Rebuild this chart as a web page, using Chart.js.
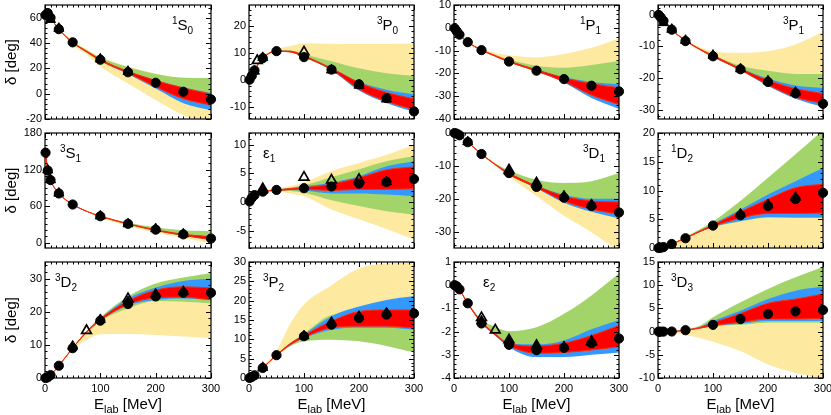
<!DOCTYPE html>
<html>
<head>
<meta charset="utf-8">
<script src="https://cdn.jsdelivr.net/npm/chart.js@4.4.1/dist/chart.umd.min.js"></script>
<style>
  html, body { margin: 0; padding: 0; background: #fff; width: 831px; height: 415px; overflow: hidden; position: relative; }
  canvas { position: absolute; left: -20px; top: -20px; }
</style>
</head>
<body>
<script>
// energies (MeV)
const E_BAND = [1, 5, 10, 25, 50, 75, 100, 150, 200, 250, 300];
const E_PWA = [1, 5, 10, 25, 50, 100, 150, 200, 250, 300];
const X_TICKS = [0, 100, 200, 300];

// bands: [yellow lo, yellow hi, green lo, green hi, blue lo, blue hi, red lo, red hi] on E_BAND

// 1S0
const P1S0_TICKS = [-20, 0, 20, 40, 60];
const P1S0_PWA = [62.1, 63.6, 60.0, 50.9, 40.5, 26.8, 16.9, 8.6, 1.5, -4.5];
const P1S0_TRI_E = [10, 25, 100, 150];
const P1S0_TRI = [58.5, 51.5, 27.3, 17.5];
const P1S0_BANDS = [
  [62, 63.5, 59.8, 50.6, 38.5, 31, 21.5, 8, -5, -17, -24],
  [62.2, 63.8, 60.2, 51.3, 41.5, 35, 29, 21.5, 16, 12.5, 12],
  [62, 63.5, 59.9, 50.8, 40, 32.5, 25.5, 16, 10.4, 4.5, -0.3],
  [62.2, 63.8, 60.1, 51.1, 41, 34.5, 28.5, 21, 15.5, 12.5, 12.3],
  [62, 63.5, 59.9, 50.8, 40, 32.8, 25.8, 15.5, 4, -7.5, -13],
  [62.2, 63.7, 60.1, 51.0, 40.5, 33.6, 27, 17.6, 10.6, 5, 0.5],
  [62.05, 63.55, 59.95, 50.85, 40.3, 33.0, 26.2, 16.3, 5.5, -4, -9],
  [62.15, 63.65, 60.05, 50.95, 40.6, 33.6, 27.0, 17.6, 10.4, 4.5, -0.3]
];

// 3P0
const P3P0_TICKS = [-10, 0, 10, 20];
const P3P0_PWA = [0.2, 1.6, 3.6, 8.1, 10.7, 8.5, 3.9, -1.5, -6.6, -11.5];
const P3P0_TRI_E = [10, 25, 150, 200, 250];
const P3P0_TRI = [3.3, 8.3, 3.7, -1.9, -7.0];
const P3P0_OTRI_E = [15, 100];
const P3P0_OTRI = [7.2, 10.4];
const P3P0_BANDS = [
  [0.2, 1.6, 3.6, 8.0, 10.6, 10.2, 8.5, 3.8, 0, 1, 1.6],
  [0.25, 1.7, 3.8, 8.6, 11.5, 12.5, 13.6, 13.4, 13.3, 13.3, 13.6],
  [0.2, 1.6, 3.6, 8.0, 10.6, 10.3, 8.5, 3.9, -1.0, -3.8, -5.3],
  [0.22, 1.65, 3.7, 8.2, 10.9, 10.9, 9.6, 7.0, 4.4, 2.6, 1.6],
  [0.2, 1.6, 3.6, 8.0, 10.6, 10.3, 8.5, 3.6, -3.8, -8.4, -11.7],
  [0.22, 1.65, 3.7, 8.2, 10.8, 10.8, 9.0, 4.5, -0.6, -3.5, -5.2],
  [0.2, 1.6, 3.6, 8.05, 10.65, 10.4, 8.6, 3.9, -3.3, -7.8, -10.9],
  [0.22, 1.64, 3.68, 8.15, 10.75, 10.7, 9.0, 4.4, -0.9, -4.5, -6.9]
];

// 1P1
const P1P1_TICKS = [-40, -30, -20, -10, 0, 10];
const P1P1_PWA = [-0.2, -1.5, -3.0, -6.3, -9.8, -14.8, -18.8, -22.5, -25.4, -27.9];
const P1P1_BANDS = [
  [-0.2, -1.5, -3.0, -6.3, -9.8, -12.5, -15.2, -18.8, -22, -24, -25],
  [-0.18, -1.45, -2.9, -6.0, -9.0, -11.0, -12.0, -13.0, -11.5, -8.8, -4.7],
  [-0.2, -1.5, -3.0, -6.3, -9.8, -12.5, -15.0, -18.8, -22, -24.5, -25],
  [-0.19, -1.47, -2.95, -6.2, -9.5, -11.8, -13.8, -16.6, -17.5, -16.3, -14.6],
  [-0.2, -1.5, -3.0, -6.35, -9.85, -12.5, -15.1, -19.2, -24, -30.8, -35.6],
  [-0.19, -1.48, -2.97, -6.25, -9.6, -12.1, -14.6, -18.3, -21.6, -23.8, -24.8],
  [-0.2, -1.5, -3.0, -6.32, -9.8, -12.5, -15.0, -19.0, -23.6, -29.5, -33.7],
  [-0.19, -1.48, -2.98, -6.28, -9.65, -12.2, -14.6, -18.4, -22.0, -24.5, -26.3]
];

// 3P1
const P3P1_TICKS = [-30, -20, -10, 0];
const P3P1_PWA = [-0.1, -0.9, -2.0, -4.8, -8.4, -13.2, -17.3, -21.3, -24.9, -28.2];
const P3P1_TRI_E = [10, 25, 50, 100, 150, 200, 250];
const P3P1_TRI = [-2.6, -4.7, -8.2, -12.9, -17.2, -21.0, -24.6];
const P3P1_BANDS = [
  [-0.1, -0.9, -2.1, -4.9, -8.3, -11, -13.4, -17.5, -20.4, -22.6, -23.3],
  [-0.09, -0.85, -2.0, -4.6, -7.8, -10.2, -11.6, -12.1, -11.6, -9.5, -5.4],
  [-0.1, -0.9, -2.1, -4.9, -8.3, -11, -13.4, -17.5, -20.5, -22.8, -23.5],
  [-0.09, -0.87, -2.05, -4.8, -8.1, -10.7, -12.7, -16.2, -17.8, -18.8, -18.8],
  [-0.1, -0.9, -2.1, -4.9, -8.35, -11, -13.4, -17.6, -22.6, -26.6, -29.2],
  [-0.09, -0.88, -2.05, -4.8, -8.15, -10.8, -12.9, -17.0, -20.2, -22.4, -23.2],
  [-0.1, -0.9, -2.08, -4.88, -8.3, -11, -13.3, -17.5, -22.2, -26.1, -28.1],
  [-0.09, -0.88, -2.06, -4.82, -8.2, -10.8, -12.9, -17.1, -20.8, -23.4, -25.0]
];

// 3S1
const P3S1_TICKS = [0, 60, 120, 180];
const P3S1_PWA = [147.7, 118.2, 102.6, 80.6, 62.5, 43.2, 30.7, 21.2, 13.4, 6.6];
const P3S1_TRI_E = [5, 10, 25, 100, 150, 200, 250];
const P3S1_TRI = [119, 103, 81, 43.5, 30.5, 22.5, 14];
const P3S1_BANDS = [
  [147.7, 118.2, 102.6, 80.5, 62.3, 51, 41, 27, 16, 7.5, -1],
  [147.8, 118.3, 102.7, 80.8, 63, 52, 44, 32, 24, 18, 15],
  [147.7, 118.2, 102.6, 80.6, 62.5, 51.3, 42.5, 30, 20, 12, 9],
  [147.8, 118.3, 102.7, 80.8, 63, 52, 44, 32.5, 25, 20, 18.4],
  [147.7, 118.2, 102.6, 80.6, 62.5, 51.2, 42.8, 30, 19.3, 11, 4],
  [147.8, 118.3, 102.7, 80.7, 62.8, 51.6, 43.5, 31, 21, 13.5, 10],
  [147.7, 118.2, 102.6, 80.6, 62.6, 51.3, 43, 30.3, 19.8, 11.8, 4.6],
  [147.8, 118.3, 102.7, 80.7, 62.8, 51.6, 43.5, 31, 21, 13.5, 9.5]
];

// eps1
const EPS1_TICKS = [-5, 0, 5, 10];
const EPS1_PWA = [0.1, 0.7, 1.2, 1.8, 2.1, 2.4, 2.7, 3.2, 3.5, 4.0];
const EPS1_TRI_E = [25, 250];
const EPS1_TRI = [2.0, 3.5];
const EPS1_OTRI_E = [25, 100, 150, 200];
const EPS1_OTRI = [2.3, 4.3, 3.8, 3.9];
const EPS1_BANDS = [
  [0.1, 0.7, 1.2, 1.8, 1.8, 1.5, 1.0, -1.3, -3, -4.7, -6.5],
  [0.12, 0.72, 1.22, 1.85, 2.3, 2.8, 3.4, 5.4, 6.8, 8.2, 10],
  [0.1, 0.7, 1.2, 1.8, 1.95, 1.9, 1.6, 0.3, -0.7, -1.6, -2.2],
  [0.12, 0.72, 1.22, 1.82, 2.15, 2.5, 2.9, 4.3, 5.7, 7.1, 8],
  [0.1, 0.7, 1.2, 1.8, 2.0, 2.1, 2.0, 1.5, 1.5, 1.3, 1.0],
  [0.12, 0.72, 1.22, 1.82, 2.1, 2.4, 2.7, 3.4, 4.5, 6.2, 7.1],
  [0.1, 0.7, 1.2, 1.8, 2.0, 2.15, 2.2, 2.0, 2.2, 2.2, 2.3],
  [0.12, 0.72, 1.22, 1.82, 2.1, 2.35, 2.5, 3.1, 4.2, 5.6, 6.1]
];

// 3D1
const P3D1_TICKS = [-30, -20, -10, 0];
const P3D1_PWA = [0, -0.2, -0.7, -2.8, -6.4, -12.2, -16.4, -19.7, -22.2, -24.2];
const P3D1_TRI_E = [25, 100, 150, 200, 250];
const P3D1_TRI = [-2.7, -11.7, -15.7, -19.2, -21.8];
const P3D1_OTRI_E = [100, 150];
const P3D1_OTRI = [-11.3, -15.2];
const P3D1_BANDS = [
  [0, -0.2, -0.7, -2.8, -6.6, -10, -13.3, -19.2, -25.2, -30.2, -36],
  [0, -0.18, -0.65, -2.7, -6.3, -9.5, -12.0, -15.8, -19.5, -21.5, -23],
  [0, -0.2, -0.7, -2.8, -6.5, -9.7, -12.6, -16.6, -19, -20.3, -20.3],
  [0, -0.18, -0.65, -2.7, -6.2, -9.2, -11.4, -14.2, -15.2, -14.7, -12.2],
  [0, -0.2, -0.7, -2.8, -6.5, -9.7, -12.7, -16.8, -21.2, -24, -26],
  [0, -0.18, -0.67, -2.75, -6.35, -9.5, -12.1, -16.0, -18.8, -20, -20],
  [0, -0.2, -0.7, -2.8, -6.45, -9.65, -12.6, -16.6, -20.7, -23.2, -24.7],
  [0, -0.19, -0.68, -2.77, -6.4, -9.55, -12.2, -16.1, -19.2, -20.7, -21]
];

// 1D2
const P1D2_TICKS = [0, 5, 10, 15, 20];
const P1D2_PWA = [0, 0.04, 0.16, 0.7, 1.7, 3.9, 5.7, 7.3, 8.5, 9.6];
const P1D2_TRI_E = [150, 200, 250];
const P1D2_TRI = [5.9, 7.5, 8.8];
const P1D2_BANDS = [
  [-1, -1, -1, -1, -1, -1, -1, -1, -1, -1, -1],
  [0, 0.04, 0.15, 0.65, 1.6, 2.6, 3.6, 4.7, 5.5, 5.3, 5.3],
  [0, 0.04, 0.16, 0.68, 1.68, 2.75, 3.6, 4.6, 5.3, 5.2, 5.2],
  [0, 0.05, 0.18, 0.78, 1.95, 3.2, 4.6, 8.2, 12.2, 16.3, 20.5],
  [0, 0.04, 0.16, 0.68, 1.68, 2.75, 3.7, 4.7, 5.4, 5.3, 5.3],
  [0, 0.045, 0.17, 0.72, 1.8, 2.95, 4.2, 6.7, 9.3, 11.6, 13.9],
  [0, 0.04, 0.16, 0.69, 1.7, 2.8, 3.75, 5.2, 6.0, 6.0, 6.1],
  [0, 0.045, 0.165, 0.71, 1.75, 2.9, 4.0, 6.3, 8.5, 10.5, 11.1]
];

// 3D2
const P3D2_TICKS = [0, 10, 20, 30];
const P3D2_PWA = [0, 0.2, 0.85, 3.7, 9.0, 17.3, 22.3, 24.6, 25.7, 25.7];
const P3D2_TRI_E = [50, 100, 150, 200, 250];
const P3D2_TRI = [9.6, 17.6, 23.0, 25.3, 26.1];
const P3D2_OTRI_E = [75, 150];
const P3D2_OTRI = [14.3, 23.9];
const P3D2_BANDS = [
  [0, 0.2, 0.8, 3.5, 8.5, 11.5, 13.2, 13.3, 13, 12.5, 12],
  [0.01, 0.22, 0.9, 3.9, 9.3, 14.1, 17.8, 21.8, 23.5, 23, 22.5],
  [0, 0.2, 0.85, 3.7, 9.0, 13.6, 17.2, 21, 23.2, 23, 22.5],
  [0.01, 0.22, 0.9, 3.8, 9.2, 14.2, 18.3, 24.6, 28.5, 30.3, 31.7],
  [0, 0.2, 0.85, 3.7, 9.0, 13.7, 17.3, 21.8, 23.5, 24, 23.5],
  [0.01, 0.22, 0.88, 3.75, 9.1, 14.0, 18.0, 24, 27.3, 29.3, 30],
  [0, 0.2, 0.85, 3.7, 9.0, 13.75, 17.4, 22.2, 24.2, 24.4, 23.6],
  [0.01, 0.21, 0.87, 3.73, 9.05, 13.95, 17.8, 23.2, 26.5, 27.5, 27.2]
];

// 3P2
const P3P2_TICKS = [0, 5, 10, 15, 20, 25, 30];
const P3P2_PWA = [0.02, 0.25, 0.7, 2.6, 5.9, 10.8, 13.8, 15.5, 16.4, 16.7];
const P3P2_TRI_E = [25, 100, 150, 200, 250];
const P3P2_TRI = [2.7, 10.9, 14.4, 15.9, 16.8];
const P3P2_BANDS = [
  [0.02, 0.25, 0.7, 2.5, 5.5, 8.3, 10.5, 14, 16, 17, 17],
  [0.03, 0.3, 0.8, 3.0, 7.0, 14, 19, 24, 28.3, 29.6, 29.8],
  [0.02, 0.25, 0.7, 2.55, 5.8, 8.2, 9.5, 9.9, 9.5, 8.3, 6.6],
  [0.03, 0.27, 0.75, 2.7, 6.0, 9.0, 11.5, 16.3, 17, 18, 18],
  [0.02, 0.25, 0.7, 2.55, 5.85, 8.5, 10.3, 12.5, 13, 13, 12.5],
  [0.03, 0.27, 0.73, 2.65, 6.0, 9.0, 11.3, 16.0, 18.5, 20.2, 21.2],
  [0.02, 0.25, 0.7, 2.57, 5.87, 8.6, 10.5, 13, 13.4, 13.4, 12.9],
  [0.03, 0.26, 0.72, 2.63, 5.95, 8.9, 11.0, 14.7, 17.2, 17.6, 17.6]
];

// eps2
const EPS2_TICKS = [-4, -3, -2, -1, 0, 1];
const EPS2_PWA = [0, -0.05, -0.18, -0.78, -1.65, -2.57, -2.8, -2.7, -2.5, -2.3];
const EPS2_TRI_E = [50, 100, 150, 200, 250];
const EPS2_TRI = [-1.55, -2.42, -2.66, -2.65, -2.47];
const EPS2_OTRI_E = [50, 75, 100, 150, 250];
const EPS2_OTRI = [-1.4, -1.93, -2.36, -2.6, -2.43];
const EPS2_BANDS = [
  null,
  null,
  [0, -0.05, -0.2, -0.8, -1.62, -2.15, -2.6, -2.6, -2.4, -1.95, -1.52],
  [0, -0.04, -0.17, -0.74, -1.48, -1.8, -1.98, -1.81, -1.23, -0.44, 0.5],
  [0, -0.05, -0.2, -0.81, -1.65, -2.17, -2.67, -3.1, -3.1, -3.0, -2.9],
  [0, -0.04, -0.18, -0.77, -1.56, -2.08, -2.5, -2.55, -2.38, -1.9, -1.5],
  [0, -0.05, -0.19, -0.8, -1.62, -2.15, -2.6, -2.93, -2.9, -2.79, -2.65],
  [0, -0.045, -0.185, -0.78, -1.58, -2.1, -2.52, -2.62, -2.5, -2.17, -1.74]
];

// 3D3
const P3D3_TICKS = [-10, -5, 0, 5, 10, 15];
const P3D3_PWA = [0, 0, 0, 0.02, 0.3, 1.45, 2.7, 3.8, 4.35, 4.65];
const P3D3_BANDS = [
  [0, 0, 0, -0.1, -0.8, -1.3, -2.2, -4.2, -7.1, -8.9, -10.2],
  [0, 0, 0, 0.05, 0.3, 0.6, 1.1, 1.3, 1.9, 1.9, 1.9],
  [0, 0, 0, 0.02, 0.25, 0.6, 1.1, 1.4, 1.9, 1.9, 1.9],
  [0, 0, 0.01, 0.06, 0.5, 1.2, 3.1, 6.3, 9.2, 11.7, 13.9],
  [0, 0, 0, 0.02, 0.25, 0.65, 1.2, 1.7, 2.3, 2.3, 2.3],
  [0, 0, 0.01, 0.04, 0.4, 0.95, 2.3, 4.5, 7, 8.8, 9.7],
  [0, 0, 0, 0.02, 0.27, 0.7, 1.3, 2.0, 2.7, 2.7, 2.9],
  [0, 0, 0.005, 0.03, 0.35, 0.85, 1.9, 3.9, 6.1, 7.0, 8.1]
];

// layout (page pixels)
const COL_L = [45, 249, 454, 658];
const COL_R = [211, 414, 619, 823];
const ROW_T = [5, 133, 262];
const ROW_B = [119, 248, 378];
const OFF = 20, CW = 871, CH = 455;
const BAND_COLORS = ['#fde9a0', '#a2d46a', '#3399ff', '#ff0000'];
const FONT = "'Liberation Sans', Arial, sans-serif";

Chart.defaults.font.family = FONT;

const PANELS = [
  { col: 0, row: 0, lab: ['1', 'S', '0'], lx: 127, yMin: -20, yMax: 70, yTicks: P1S0_TICKS, yMinor: 4,
    pwa: P1S0_PWA, tri: [P1S0_TRI_E, P1S0_TRI], bands: P1S0_BANDS },
  { col: 1, row: 0, lab: ['3', 'P', '0'], lx: 128, yMin: -14.3, yMax: 27.7, yTicks: P3P0_TICKS, yMinor: 2,
    pwa: P3P0_PWA, tri: [P3P0_TRI_E, P3P0_TRI], otri: [P3P0_OTRI_E, P3P0_OTRI], bands: P3P0_BANDS },
  { col: 2, row: 0, lab: ['1', 'P', '1'], lx: 126, yMin: -40, yMax: 10, yTicks: P1P1_TICKS, yMinor: 2,
    pwa: P1P1_PWA, bands: P1P1_BANDS },
  { col: 3, row: 0, lab: ['3', 'P', '1'], lx: 125, yMin: -33, yMax: 3, yTicks: P3P1_TICKS, yMinor: 2,
    pwa: P3P1_PWA, tri: [P3P1_TRI_E, P3P1_TRI], bands: P3P1_BANDS },
  { col: 0, row: 1, lab: ['3', 'S', '1'], lx: 15, yMin: -9, yMax: 180, yTicks: P3S1_TICKS, yMinor: 10,
    pwa: P3S1_PWA, tri: [P3S1_TRI_E, P3S1_TRI], bands: P3S1_BANDS },
  { col: 1, row: 1, lab: ['', 'ε', '1'], lx: 14, yMin: -8, yMax: 12, yTicks: EPS1_TICKS, yMinor: 1,
    pwa: EPS1_PWA, tri: [EPS1_TRI_E, EPS1_TRI], otri: [EPS1_OTRI_E, EPS1_OTRI], bands: EPS1_BANDS },
  { col: 2, row: 1, lab: ['3', 'D', '1'], lx: 129, yMin: -35, yMax: 0, yTicks: P3D1_TICKS, yMinor: 2,
    pwa: P3D1_PWA, tri: [P3D1_TRI_E, P3D1_TRI], otri: [P3D1_OTRI_E, P3D1_OTRI], bands: P3D1_BANDS },
  { col: 3, row: 1, lab: ['1', 'D', '2'], lx: 13, yMin: 0, yMax: 20, yTicks: P1D2_TICKS, yMinor: 1,
    pwa: P1D2_PWA, tri: [P1D2_TRI_E, P1D2_TRI], bands: P1D2_BANDS },
  { col: 0, row: 2, lab: ['3', 'D', '2'], lx: 10, yMin: 0, yMax: 35, yTicks: P3D2_TICKS, yMinor: 2,
    pwa: P3D2_PWA, tri: [P3D2_TRI_E, P3D2_TRI], otri: [P3D2_OTRI_E, P3D2_OTRI], bands: P3D2_BANDS },
  { col: 1, row: 2, lab: ['3', 'P', '2'], lx: 14, yMin: 0, yMax: 30, yTicks: P3P2_TICKS, yMinor: 1,
    pwa: P3P2_PWA, tri: [P3P2_TRI_E, P3P2_TRI], bands: P3P2_BANDS },
  { col: 2, row: 2, lab: ['', 'ε', '2'], lx: 29, yMin: -4, yMax: 1, yTicks: EPS2_TICKS, yMinor: 0.2,
    pwa: EPS2_PWA, tri: [EPS2_TRI_E, EPS2_TRI], otri: [EPS2_OTRI_E, EPS2_OTRI], bands: EPS2_BANDS },
  { col: 3, row: 2, lab: ['3', 'D', '3'], lx: 13, yMin: -10, yMax: 15, yTicks: P3D3_TICKS, yMinor: 1,
    pwa: P3D3_PWA, bands: P3D3_BANDS }
];

function pts(xs, ys) {
  return xs.map((x, i) => ({ x: x, y: ys[i] }));
}

function drawRich(ctx, x, y, parts) {
  // parts: [text, size, dy]
  let cx = x;
  parts.forEach(p => {
    if (!p[0]) return;
    ctx.font = p[1] + 'px ' + FONT;
    ctx.fillText(p[0], cx, y + p[2]);
    cx += ctx.measureText(p[0]).width;
  });
}

function richWidth(ctx, parts) {
  let w = 0;
  parts.forEach(p => {
    if (!p[0]) return;
    ctx.font = p[1] + 'px ' + FONT;
    w += ctx.measureText(p[0]).width;
  });
  return w;
}

function drawFrame(chart, def) {
  const ctx = chart.ctx, a = chart.chartArea, xs = chart.scales.x, ys = chart.scales.y;
  ctx.save();
  ctx.strokeStyle = '#000';
  ctx.lineWidth = 1.2;
  ctx.strokeRect(a.left, a.top, a.right - a.left, a.bottom - a.top);
  ctx.lineWidth = 1;
  ctx.beginPath();
  for (let v = 0; v <= 300; v += 10) {
    const px = Math.round(xs.getPixelForValue(v)) + 0.5;
    const len = v % 100 === 0 ? 5 : 2.5;
    ctx.moveTo(px, a.bottom); ctx.lineTo(px, a.bottom - len);
    ctx.moveTo(px, a.top); ctx.lineTo(px, a.top + len);
  }
  const n0 = Math.ceil(def.yMin / def.yMinor - 1e-6);
  const n1 = Math.floor(def.yMax / def.yMinor + 1e-6);
  for (let n = n0; n <= n1; n++) {
    const v = n * def.yMinor;
    const major = def.yTicks.some(t => Math.abs(t - v) < 1e-6);
    const py = Math.round(ys.getPixelForValue(v)) + 0.5;
    const len = major ? 5 : 2.5;
    ctx.moveTo(a.left, py); ctx.lineTo(a.left + len, py);
    ctx.moveTo(a.right, py); ctx.lineTo(a.right - len, py);
  }
  ctx.stroke();
  ctx.restore();
}

function panelPlugin(def) {
  return {
    id: 'panelFrame',
    afterDatasetDraw(chart, args) {
      if (chart.data.datasets[args.index].frameAfter) drawFrame(chart, def);
    },
    afterDraw(chart) {
      const ctx = chart.ctx, a = chart.chartArea;
      ctx.save();
      ctx.fillStyle = '#000';
      ctx.textBaseline = 'alphabetic';
      drawRich(ctx, a.left + def.lx, a.top + 25, [
        [def.lab[0], 10, -6], [def.lab[1], 15, 0], [def.lab[2], 10, 4]
      ]);
      if (def.row === 2) {
        const parts = [['E', 15, 0], ['lab', 11, 4], [' [MeV]', 15, 0]];
        const w = richWidth(ctx, parts);
        drawRich(ctx, (a.left + a.right) / 2 - w / 2, 409 + OFF, parts);
      }
      ctx.restore();
    }
  };
}

function bandSets(bands) {
  const out = [];
  for (let k = 0; k < 4; k++) {
    const lo = bands[2 * k], hi = bands[2 * k + 1];
    if (!lo) continue;
    const red = k === 3;
    const common = {
      pointRadius: 0,
      cubicInterpolationMode: 'monotone',
      order: 10 - k,
      borderColor: red ? '#ff2a00' : 'rgba(0,0,0,0)',
      borderWidth: 1
    };
    out.push(Object.assign({}, common, { data: pts(E_BAND, lo), fill: false, frameAfter: red }));
    out.push(Object.assign({}, common, { data: pts(E_BAND, hi), fill: '-1', backgroundColor: BAND_COLORS[k] }));
  }
  return out;
}

function markerSet(xs, ys, style, filled, order, radius) {
  return {
    data: pts(xs, ys),
    showLine: false,
    pointStyle: style,
    pointRadius: radius,
    pointBackgroundColor: filled ? '#000' : 'rgba(0,0,0,0)',
    pointBorderColor: '#000',
    pointBorderWidth: filled ? 1 : 1.7,
    order: order,
    clip: false
  };
}

PANELS.forEach(def => {
  const cv = document.createElement('canvas');
  cv.width = CW; cv.height = CH;
  cv.style.width = CW + 'px'; cv.style.height = CH + 'px';
  document.body.appendChild(cv);

  const L = COL_L[def.col], R = COL_R[def.col], T = ROW_T[def.row], B = ROW_B[def.row];
  const yW = def.col === 0 ? 45 : 40;
  const xH = def.row === 2 ? 18 : 0;

  const datasets = bandSets(def.bands);
  datasets.push(markerSet(E_PWA, def.pwa, 'circle', true, 4, 4.6));
  if (def.tri) datasets.push(markerSet(def.tri[0], def.tri[1], 'triangle', true, 3, 5.8));
  if (def.otri) datasets.push(markerSet(def.otri[0], def.otri[1], 'triangle', false, 2, 5.6));

  new Chart(cv, {
    type: 'line',
    data: { datasets: datasets },
    options: {
      responsive: false,
      animation: false,
      events: [],
      layout: {
        padding: { left: OFF + L - yW, right: CW - OFF - R, top: OFF + T, bottom: CH - OFF - B - xH }
      },
      plugins: { legend: { display: false }, tooltip: { enabled: false } },
      scales: {
        x: {
          type: 'linear', min: 0, max: 300,
          grid: { display: false, drawTicks: false, tickLength: 0 },
          border: { display: false },
          ticks: { display: def.row === 2, padding: 4, maxRotation: 0, autoSkip: false, color: '#000', font: { size: 11 } },
          afterBuildTicks: s => { s.ticks = X_TICKS.map(v => ({ value: v })); },
          afterFit: s => { s.height = xH; }
        },
        y: {
          type: 'linear', min: def.yMin, max: def.yMax,
          grid: { display: false, drawTicks: false, tickLength: 0 },
          border: { display: false },
          ticks: { padding: 3, autoSkip: false, color: '#000', font: { size: 11 }, callback: v => String(v) },
          afterBuildTicks: s => { s.ticks = def.yTicks.map(v => ({ value: v })); },
          afterFit: s => { s.width = yW; },
          title: { display: def.col === 0, text: 'δ [deg]', color: '#000', font: { size: 15 }, padding: { top: 3, bottom: 0 } }
        }
      }
    },
    plugins: [panelPlugin(def)]
  });
});
</script>
</body>
</html>
